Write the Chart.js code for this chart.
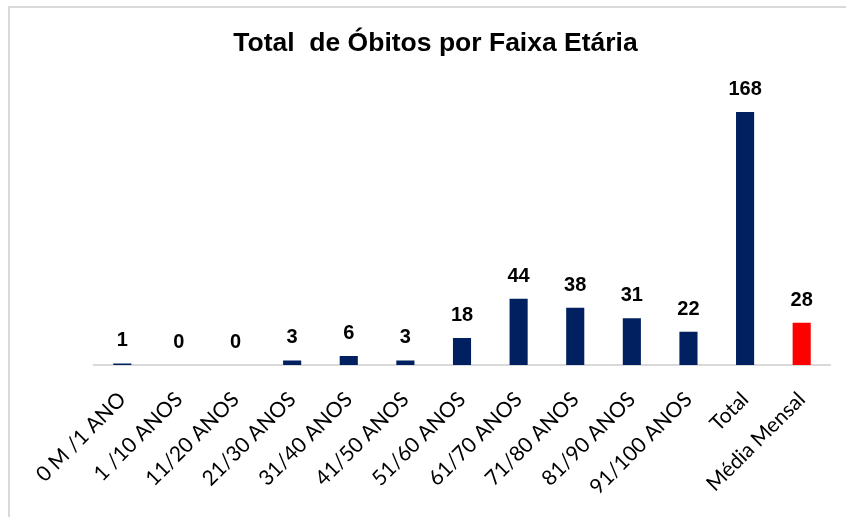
<!DOCTYPE html>
<html>
<head>
<meta charset="utf-8">
<script src="https://cdn.jsdelivr.net/npm/chart.js@4"></script>
<style>
    html, body { margin: 0; padding: 0; background: #fff; }
    #wrap { position: relative; width: 846px; height: 517px; }
    #frame {
        position: absolute; left: 8px; top: 6px; right: 0; bottom: 0;
        border-top: 2px solid #d9d9d9; border-left: 2px solid #d9d9d9;
    }
    canvas { position: absolute; left: 0; top: 0; }
</style>
</head>
<body>
<div id="wrap">
    <div id="frame"></div>
    <canvas id="chart" width="846" height="517"></canvas>
</div>
<script>
// Chart data
const categories = [
    '0 M /1 ANO', '1 /10 ANOS', '11/20 ANOS', '21/30 ANOS', '31/40 ANOS',
    '41/50 ANOS', '51/60 ANOS', '61/70 ANOS', '71/80 ANOS', '81/90 ANOS',
    '91/100 ANOS', 'Total', 'Média Mensal'
];
const deaths = [1, 0, 0, 3, 6, 3, 18, 44, 38, 31, 22, 168, 28];
const yTicks = [0, 180];

const NAVY = '#002060';
const RED = '#ff0000';

// Value labels above the bars
const valueLabels = {
    id: 'valueLabels',
    afterDatasetsDraw(chart) {
        const ctx = chart.ctx;
        const meta = chart.getDatasetMeta(0);
        ctx.save();
        ctx.font = 'bold 20px "Liberation Sans", Arial, sans-serif';
        ctx.fillStyle = '#000';
        ctx.textAlign = 'center';
        ctx.textBaseline = 'alphabetic';
        meta.data.forEach((bar, i) => {
            ctx.fillText(String(deaths[i]), bar.x, bar.y - 17);
        });
        ctx.restore();
    }
};

new Chart(document.getElementById('chart').getContext('2d'), {
    type: 'bar',
    data: {
        labels: categories,
        datasets: [{
            data: deaths,
            backgroundColor: ctx => categories[ctx.dataIndex] === 'Média Mensal' ? RED : NAVY,
            barPercentage: 0.32,
            categoryPercentage: 1
        }]
    },
    options: {
        responsive: false,
        animation: false,
        layout: { padding: { left: 41, right: 16, top: 20, bottom: 0 } },
        plugins: {
            legend: { display: false },
            tooltip: { enabled: false },
            title: {
                display: true,
                text: 'Total  de Óbitos por Faixa Etária',
                color: '#000',
                font: { family: '"Liberation Sans", Arial, sans-serif', size: 26.5, weight: 'bold', lineHeight: 1.2 },
                padding: { top: 8, bottom: 34 }
            }
        },
        scales: {
            x: {
                grid: { display: false },
                border: { display: true, color: '#d9d9d9', width: 2 },
                ticks: {
                    color: '#000',
                    font: { family: 'Lato, "Open Sans", sans-serif', size: 21 },
                    minRotation: 45,
                    maxRotation: 45,
                    autoSkip: false,
                    padding: 14
                },
                afterFit: s => { s.height = 152; }
            },
            y: {
                min: yTicks[0],
                max: yTicks[1],
                grid: { display: false },
                border: { display: false },
                ticks: { display: false },
                afterFit: s => { s.width = 53; }
            }
        }
    },
    plugins: [valueLabels]
});
</script>
</body>
</html>
